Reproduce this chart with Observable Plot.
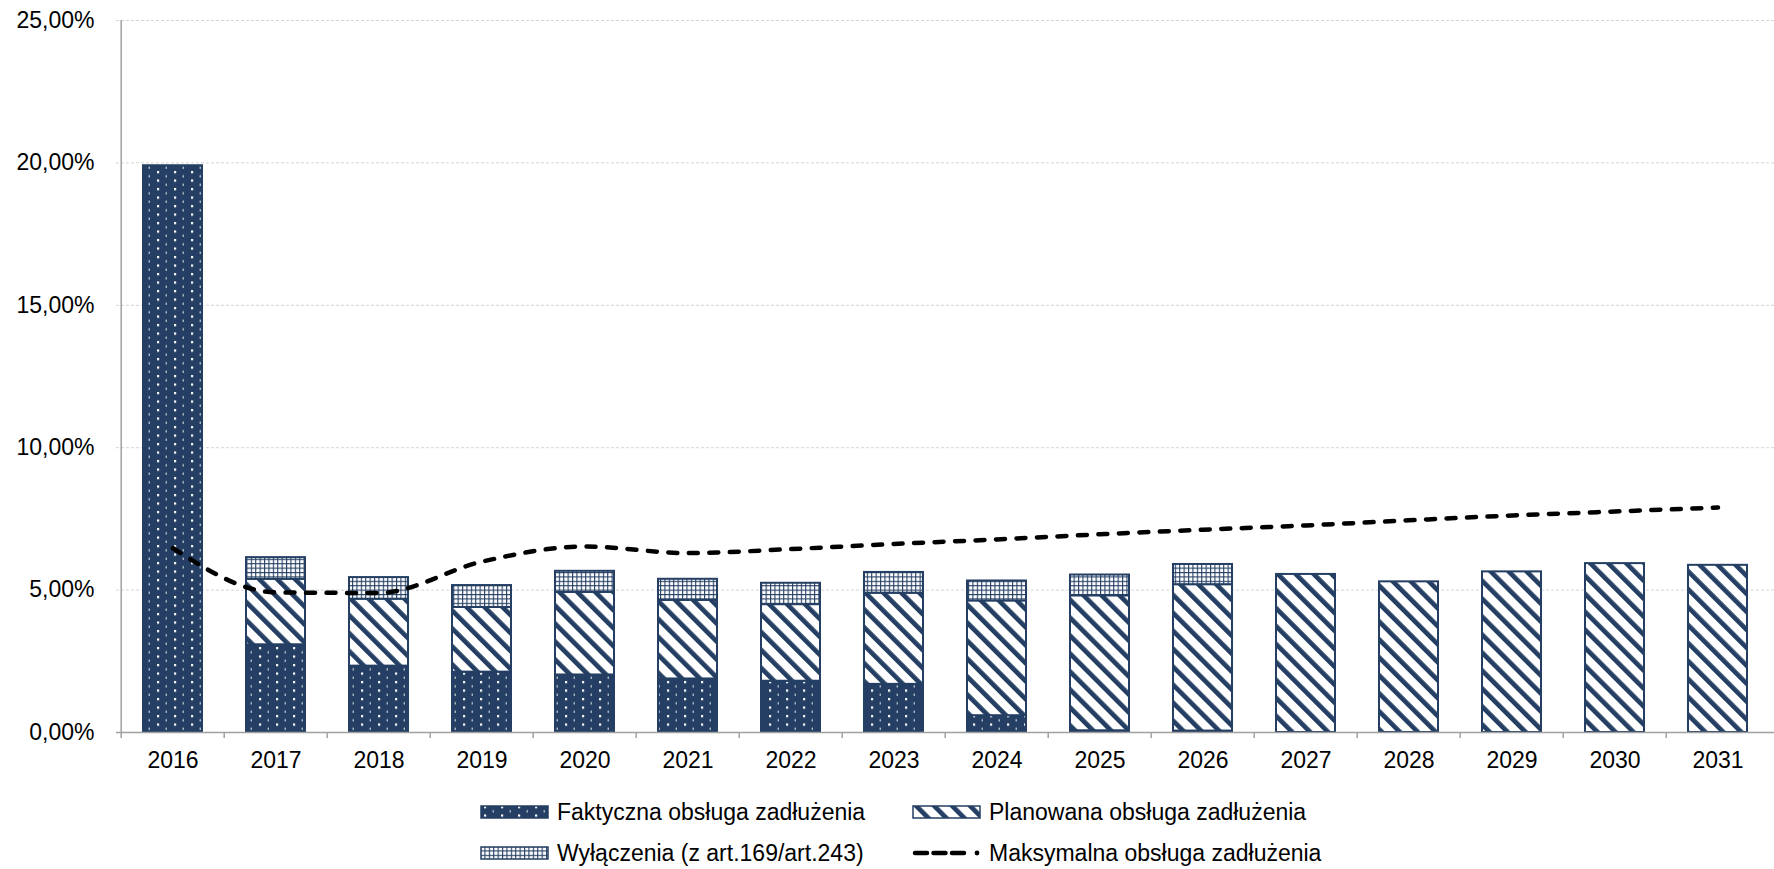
<!DOCTYPE html>
<html><head><meta charset="utf-8">
<script src="https://cdn.jsdelivr.net/npm/d3@7"></script>
<script src="https://cdn.jsdelivr.net/npm/@observablehq/plot@0.6"></script>
<style>
body{margin:0;background:#fff;font-family:"Liberation Sans",Arial,sans-serif;}
#chart svg{display:block;overflow:visible;}
#legend{position:relative;height:84px;width:1774px;}
.item{position:absolute;display:flex;align-items:center;height:26px;font-size:23px;color:#000;white-space:nowrap;}
.item svg{margin-right:8px;display:block;}
</style></head><body>
<svg width="0" height="0" style="position:absolute">
  <defs>
    <pattern id="patF" patternUnits="userSpaceOnUse" width="17" height="8.5">
      <rect width="17" height="8.5" fill="#243f63"/>
      <rect x="4" y="1" width="2.2" height="2.2" fill="#ffffff"/>
      <rect x="12.6" y="5.2" width="1.3" height="2.2" fill="#ffffff" opacity="0.75"/>
    </pattern>
    <pattern id="patP" patternUnits="userSpaceOnUse" width="12.7" height="12.7" patternTransform="rotate(-45)">
      <rect width="12.7" height="12.7" fill="#ffffff"/>
      <rect x="0" y="0" width="4.7" height="12.7" fill="#243f63"/>
    </pattern>
    <pattern id="patW" patternUnits="userSpaceOnUse" width="4.4" height="4.4">
      <rect width="4.4" height="4.4" fill="#243f63"/>
      <rect x="1.1" y="1.1" width="3.3" height="3.3" fill="#ffffff"/>
    </pattern>
  </defs>
</svg>
<div id="chart"></div>
<div id="legend"></div>
<script>
const years = ["2016","2017","2018","2019","2020","2021","2022","2023","2024","2025","2026","2027","2028","2029","2030","2031"];
const faktyczna  = [19.9, 3.08, 2.33, 2.12, 2.02, 1.88, 1.80, 1.69, 0.59, 0.06, 0.05, 0, 0, 0, 0, 0];
const planowana  = [0, 2.30, 2.35, 2.27, 2.90, 2.76, 2.69, 3.20, 4.03, 4.74, 5.14, 5.55, 5.29, 5.64, 5.93, 5.87];
const wylaczenia = [0, 0.76, 0.76, 0.77, 0.74, 0.74, 0.75, 0.73, 0.70, 0.73, 0.71, 0, 0, 0, 0, 0];
const maksymalna = [6.47, 4.92, 4.9, 6.0, 6.53, 6.3, 6.44, 6.62, 6.78, 6.96, 7.12, 7.27, 7.45, 7.62, 7.76, 7.9];
const yTicks = [0, 5, 10, 15, 20, 25];
const seriesNames = ["Faktyczna obsługa zadłużenia", "Planowana obsługa zadłużenia", "Wyłączenia (z art.169/art.243)", "Maksymalna obsługa zadłużenia"];

const navy = "#243f63";
const axisGrey = "#a0a0a0";
const W = 1774, H = 785, mL = 116, mR = 0, mT = 20, mB = 53;
const step = (W - mL - mR) / years.length;
const rows = years.map((year, i) => ({year, f: faktyczna[i], p: planowana[i], w: wylaczenia[i], m: maksymalna[i]}));
const fmt = v => v.toFixed(2).replace(".", ",") + "%";

const chart = Plot.plot({
  width: W, height: H, marginLeft: mL, marginRight: mR, marginTop: mT, marginBottom: mB,
  style: {fontFamily: "'Liberation Sans', Arial, sans-serif", fontSize: "23px", color: "#000", background: "#fff", overflow: "visible"},
  x: {type: "band", domain: years, paddingInner: 0.425, paddingOuter: 0.2125, label: null},
  y: {domain: [0, 25], label: null},
  marks: [
    Plot.ruleY(yTicks.filter(v => v > 0), {stroke: "#d4d4d4", strokeWidth: 1, strokeDasharray: "3,2"}),
    Plot.barY(rows.filter(d => d.f > 0), {x: "year", y1: 0, y2: d => d.f, fill: "url(#patF)", stroke: navy, strokeWidth: 2}),
    Plot.barY(rows.filter(d => d.p > 0), {x: "year", y1: d => d.f, y2: d => d.f + d.p, fill: "url(#patP)", stroke: navy, strokeWidth: 2}),
    Plot.barY(rows.filter(d => d.w > 0), {x: "year", y1: d => d.f + d.p, y2: d => d.f + d.p + d.w, fill: "url(#patW)", stroke: navy, strokeWidth: 2}),
    Plot.line(rows, {x: "year", y: "m", stroke: "#000", strokeWidth: 4.5, strokeDasharray: "9,11.5", strokeLinecap: "round", curve: "monotone-x"}),
    Plot.ruleY([0], {stroke: axisGrey, strokeWidth: 1.5}),
    Plot.ruleX([years[0]], {dx: -step / 2, stroke: axisGrey, strokeWidth: 1.5}),
    Plot.ruleX(years, {x: d => d, dx: -step / 2, y1: 0, y2: 0, insetBottom: -6, stroke: axisGrey, strokeWidth: 1.5}),
    Plot.axisY(yTicks, {tickSize: 0, tickPadding: 22, tickFormat: fmt, fontSize: 23}),
    Plot.axisX({tickSize: 0, tickPadding: 19, fontSize: 23})
  ]
});
document.getElementById("chart").appendChild(chart);

// Legend
const legend = d3.select("#legend");
const items = [
  {name: seriesNames[0], kind: "patF", left: 480, top: 14},
  {name: seriesNames[1], kind: "patP", left: 912, top: 14},
  {name: seriesNames[2], kind: "patW", left: 480, top: 55},
  {name: seriesNames[3], kind: "line", left: 912, top: 55}
];
items.forEach(it => {
  const div = legend.append("div").attr("class", "item").style("left", it.left + "px").style("top", it.top + "px");
  const s = div.append("svg").attr("width", 69).attr("height", 14);
  if (it.kind === "line") {
    s.append("line").attr("x1", 3).attr("x2", 57).attr("y1", 7).attr("y2", 7)
      .attr("stroke", "#000").attr("stroke-width", 4.5).attr("stroke-dasharray", "12,6.5").attr("stroke-linecap", "round");
    s.append("circle").attr("cx", 65).attr("cy", 7).attr("r", 2.4).attr("fill", "#000");
  } else {
    s.append("rect").attr("x", 1).attr("y", 1).attr("width", 67).attr("height", 12)
      .attr("fill", `url(#${it.kind})`).attr("stroke", navy).attr("stroke-width", 1.5);
  }
  div.append("span").text(it.name);
});
</script>
</body></html>
